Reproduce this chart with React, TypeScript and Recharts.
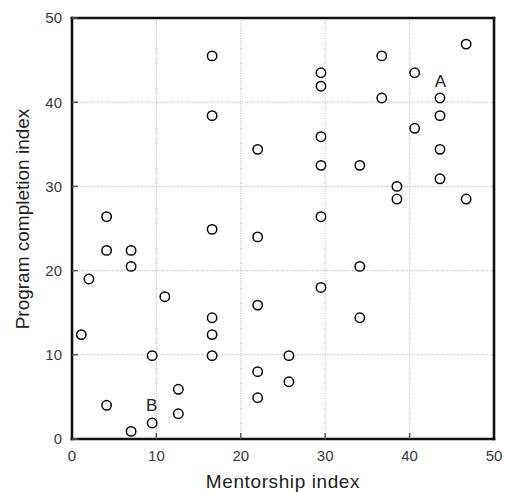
import { CartesianGrid, Label, Scatter, ScatterChart, XAxis, YAxis } from "recharts";

const MENTORSHIP = [
  16.6, 16.6, 22, 4.1, 46.7, 36.7, 29.5, 29.5, 40.6, 36.7, 43.6, 43.6, 40.6, 29.5, 43.6, 29.5,
  34.1, 43.6, 38.5, 38.5, 46.7, 29.5, 16.6, 22, 4.1, 7, 7, 2, 11, 22, 16.6, 16.6, 1.1, 9.5, 16.6,
  22, 12.6, 22, 4.1, 12.6, 9.5, 7, 34.1, 29.5, 34.1, 25.7, 25.7,
];
const COMPLETION = [
  45.5, 38.4, 34.4, 26.4, 46.9, 45.5, 43.5, 41.9, 43.5, 40.5, 40.5, 38.4, 36.9, 35.9, 34.4, 32.5,
  32.5, 30.9, 30.0, 28.5, 28.5, 26.4, 24.9, 24.0, 22.4, 22.4, 20.5, 19.0, 16.9, 15.9, 14.4, 12.4,
  12.4, 9.9, 9.9, 8.0, 5.9, 4.9, 4.0, 3.0, 1.9, 0.9, 20.5, 18.0, 14.4, 9.9, 6.8,
];
const TICKS = [0, 10, 20, 30, 40, 50];

const NOTE_TEXT = ["A", "B"];
const NOTE_X = [43.65, 9.45];
const NOTE_Y = [42.5, 4.1];

const points = MENTORSHIP.map((x, i) => ({ x, y: COMPLETION[i] }));
const notes = NOTE_TEXT.map((text, i) => ({ x: NOTE_X[i], y: NOTE_Y[i], text }));

const FONT = '"Liberation Sans", Arial, sans-serif';
const frame = { stroke: "#111", strokeWidth: 2.6, strokeLinecap: "square" as const };
const tickLine = { stroke: "#555", strokeWidth: 1.5 };
const tickText = { fill: "#3a3a3a", fontSize: 15, fontFamily: FONT };

const Dot = (props: any) => (
  <circle cx={props.cx} cy={props.cy} r={4.7} fill="#fff" stroke="#000" strokeWidth={1.5} />
);

const Note = (props: any) => (
  <text x={props.cx} y={props.cy} dy="0.36em" textAnchor="middle" fontSize={17} fontFamily={FONT} fill="#222">
    {props.payload.text}
  </text>
);

export default function App() {
  return (
    <div style={{ position: "absolute", left: 0, top: 0 }}>
      <ScatterChart width={505} height={492} margin={{ top: 17, right: 10, bottom: 0, left: 0 }}>
        <CartesianGrid stroke="#b5b5b5" strokeDasharray="1 1.5" />
        <XAxis
          type="number"
          dataKey="x"
          domain={[0, 50]}
          ticks={TICKS}
          height={53}
          tickSize={-6}
          tickMargin={17}
          axisLine={frame}
          tickLine={tickLine}
          tick={tickText}
        >
          <Label
            value="Mentorship index"
            position="insideBottom"
            offset={4}
            style={{ fontSize: 19, fontFamily: FONT, fill: "#222", letterSpacing: 0.6 }}
          />
        </XAxis>
        <XAxis
          xAxisId="top"
          orientation="top"
          type="number"
          dataKey="x"
          domain={[0, 50]}
          ticks={TICKS}
          height={1}
          tickSize={-6}
          axisLine={frame}
          tickLine={tickLine}
          tick={false}
        />
        <YAxis
          type="number"
          dataKey="y"
          domain={[0, 50]}
          ticks={TICKS}
          width={72}
          tickSize={-6}
          tickMargin={16}
          axisLine={frame}
          tickLine={tickLine}
          tick={tickText}
        >
          <Label
            content={(p: any) => {
              const vb = p.viewBox;
              const cx = 29;
              const cy = vb.y + vb.height / 2 - 9.5;
              return (
                <text
                  x={cx}
                  y={cy}
                  transform={`rotate(-90, ${cx}, ${cy})`}
                  textAnchor="middle"
                  fontSize={19}
                  fontFamily={FONT}
                  fill="#222"
                >
                  Program completion index
                </text>
              );
            }}
          />
        </YAxis>
        <YAxis
          yAxisId="right"
          orientation="right"
          type="number"
          dataKey="y"
          domain={[0, 50]}
          ticks={TICKS}
          width={1}
          tickSize={-6}
          axisLine={frame}
          tickLine={tickLine}
          tick={false}
        />
        <Scatter data={points} shape={Dot} isAnimationActive={false} />
        <Scatter data={notes} shape={Note} isAnimationActive={false} />
      </ScatterChart>
    </div>
  );
}
